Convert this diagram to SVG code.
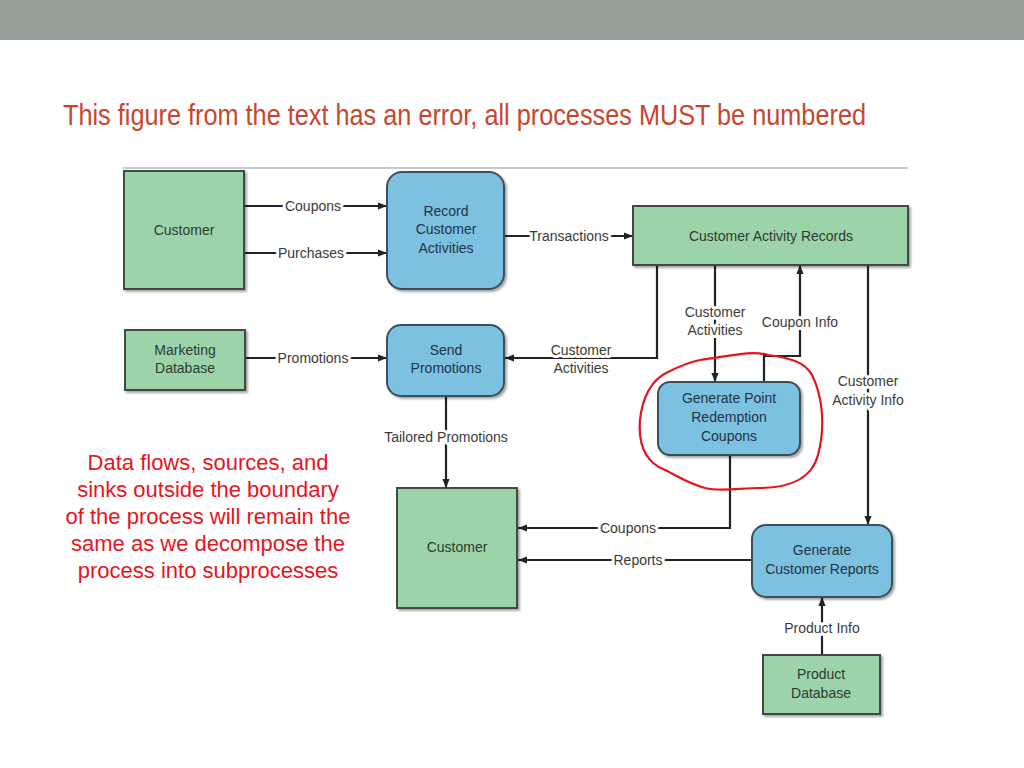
<svg xmlns="http://www.w3.org/2000/svg" width="1024" height="768" viewBox="0 0 1024 768">
<defs>
<marker id="arr" viewBox="0 0 10 10" refX="10" refY="5" markerWidth="9" markerHeight="9" markerUnits="userSpaceOnUse" orient="auto">
<path d="M0,1 L10,5 L0,9 Z" fill="#222"/>
</marker>
<filter id="sh" x="-10%" y="-10%" width="130%" height="130%">
<feDropShadow dx="2" dy="2" stdDeviation="1.2" flood-color="#000" flood-opacity="0.35"/>
</filter>
</defs>
<style>
.ent{fill:#9cd3a9;stroke:#3e4b43;stroke-width:2;filter:url(#sh)}
.proc{fill:#7dc1e1;stroke:#3d4e5a;stroke-width:2;filter:url(#sh)}
.nt{font-family:"Liberation Sans",Arial,sans-serif;font-size:14px;fill:#2c3c33;text-anchor:middle}
.pt{font-family:"Liberation Sans",Arial,sans-serif;font-size:14px;fill:#1f3446;text-anchor:middle}
.fl{fill:none;stroke:#222;stroke-width:2.2}
.lb{font-family:"Liberation Sans",Arial,sans-serif;font-size:14px;fill:#3a3a3a;text-anchor:middle;stroke:#fff;stroke-width:6;paint-order:stroke;stroke-linejoin:round}
</style>
<rect x="0" y="0" width="1024" height="40" fill="#949f98"/>
<text x="63" y="125" font-family="Liberation Sans,Arial,sans-serif" font-size="29" fill="#c8462e" textLength="803" lengthAdjust="spacingAndGlyphs">This figure from the text has an error, all processes MUST be numbered</text>
<line x1="123" y1="168" x2="908" y2="168" stroke="#c4ccd6" stroke-width="2"/>

<g id="connectors">
<path class="fl" d="M245,206 H387" marker-end="url(#arr)"/>
<text class="lb" x="313" y="211">Coupons</text>
<path class="fl" d="M245,253 H387" marker-end="url(#arr)"/>
<text class="lb" x="311" y="258">Purchases</text>
<path class="fl" d="M504,236 H633" marker-end="url(#arr)"/>
<text class="lb" x="569" y="241">Transactions</text>
<path class="fl" d="M245,358 H387" marker-end="url(#arr)"/>
<text class="lb" x="313" y="363">Promotions</text>
<path class="fl" d="M657,265 V358 H505" marker-end="url(#arr)"/>
<text class="lb" x="581" y="355">Customer</text>
<text class="lb" x="581" y="373">Activities</text>
<path class="fl" d="M446,396 V488" marker-end="url(#arr)"/>
<text class="lb" x="446" y="442">Tailored Promotions</text>
<path class="fl" d="M715,265 V382" marker-end="url(#arr)"/>
<text class="lb" x="715" y="317">Customer</text>
<text class="lb" x="715" y="335">Activities</text>
<path class="fl" d="M764,382 V356 H800 V265" marker-end="url(#arr)"/>
<text class="lb" x="800" y="327">Coupon Info</text>
<path class="fl" d="M868,265 V525" marker-end="url(#arr)"/>
<text class="lb" x="868" y="386">Customer</text>
<text class="lb" x="868" y="405">Activity Info</text>
<path class="fl" d="M730,455 V528 H518" marker-end="url(#arr)"/>
<text class="lb" x="628" y="533">Coupons</text>
<path class="fl" d="M752,560 H518" marker-end="url(#arr)"/>
<text class="lb" x="638" y="565">Reports</text>
<path class="fl" d="M822,655 V597" marker-end="url(#arr)"/>
<text class="lb" x="822" y="633">Product Info</text>
</g>

<g id="customer-top">
<rect class="ent" x="124" y="171" width="120" height="118"/>
<text class="nt" x="184" y="235">Customer</text>
</g>
<g id="record-customer-activities">
<rect class="proc" x="387" y="172" width="117" height="117" rx="15"/>
<text class="pt" x="446" y="216">Record</text>
<text class="pt" x="446" y="234">Customer</text>
<text class="pt" x="446" y="253">Activities</text>
</g>
<g id="customer-activity-records">
<rect class="ent" x="633" y="206" width="275" height="59"/>
<text class="nt" x="771" y="241">Customer Activity Records</text>
</g>
<g id="marketing-database">
<rect class="ent" x="125" y="330" width="120" height="60"/>
<text class="nt" x="185" y="355">Marketing</text>
<text class="nt" x="185" y="373">Database</text>
</g>
<g id="send-promotions">
<rect class="proc" x="387" y="325" width="117" height="71" rx="14"/>
<text class="pt" x="446" y="355">Send</text>
<text class="pt" x="446" y="373">Promotions</text>
</g>
<g id="generate-point-redemption-coupons">
<rect class="proc" x="658" y="382" width="142" height="73" rx="12"/>
<text class="pt" x="729" y="403">Generate Point</text>
<text class="pt" x="729" y="422">Redemption</text>
<text class="pt" x="729" y="441">Coupons</text>
</g>
<g id="customer-bottom">
<rect class="ent" x="397" y="488" width="120" height="120"/>
<text class="nt" x="457" y="552">Customer</text>
</g>
<g id="generate-customer-reports">
<rect class="proc" x="752" y="525" width="140" height="72" rx="14"/>
<text class="pt" x="822" y="555">Generate</text>
<text class="pt" x="822" y="574">Customer Reports</text>
</g>
<g id="product-database">
<rect class="ent" x="763" y="655" width="117" height="59"/>
<text class="nt" x="821" y="679">Product</text>
<text class="nt" x="821" y="698">Database</text>
</g>

<path d="M700,360 C730,356 752,350 768,355 C790,358 805,362 812,375 C822,395 826,425 818,455 C812,478 790,488 760,488 C740,488 720,492 705,488 C685,482 678,476 665,470 C645,462 638,445 640,420 C642,400 650,380 668,372 C680,366 690,362 700,360 Z" fill="none" stroke="#e3141c" stroke-width="2.2"/>

<g font-family="Liberation Sans,Arial,sans-serif" font-size="22" fill="#e8141c" text-anchor="middle">
<text x="208" y="470">Data flows, sources, and</text>
<text x="208" y="497">sinks outside the boundary</text>
<text x="208" y="524">of the process will remain the</text>
<text x="208" y="551">same as we decompose the</text>
<text x="208" y="578">process into subprocesses</text>
</g>
</svg>
